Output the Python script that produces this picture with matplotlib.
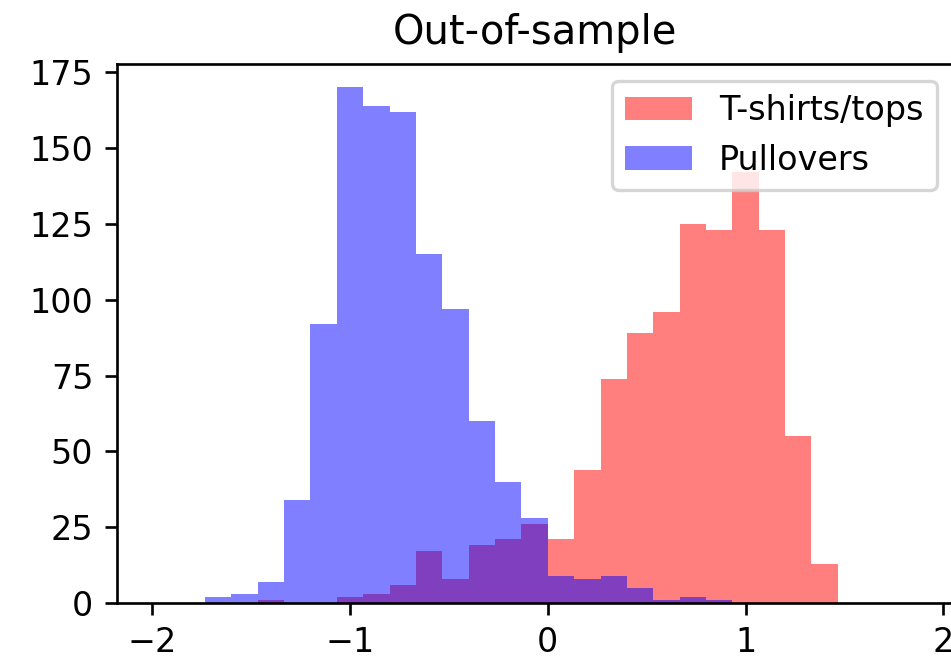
import matplotlib
matplotlib.use('Agg')
import matplotlib.pyplot as plt
import numpy as np


#%%  Data (counts per bin)
bin_edges = np.linspace(-2, 2, 31)

counts_tshirts = [0, 0, 0, 0, 1, 0, 0, 2, 3, 6,
                  17, 8, 19, 21, 26, 21, 44, 74, 89, 96,
                  125, 123, 142, 123, 55, 13, 0, 0, 0, 0]
counts_pullovers = [0, 0, 2, 3, 7, 34, 92, 170, 164, 162,
                    115, 97, 60, 40, 28, 9, 8, 9, 5, 1,
                    2, 1, 0, 0, 0, 0, 0, 0, 0, 0]

labels = ['T-shirts/tops', 'Pullovers']
title = 'Out-of-sample'

bin_centers = 0.5*(bin_edges[:-1] + bin_edges[1:])


#%%  Plotting
dpi = 240
fig = plt.figure(figsize=(951/dpi, 656/dpi), dpi=dpi)
ax = fig.add_axes([0.1227, 0.0808, 0.8796, 0.8216])

ax.hist(bin_centers, bin_edges, weights=counts_tshirts, color='red', alpha=0.5, label=labels[0])
ax.hist(bin_centers, bin_edges, weights=counts_pullovers, color='blue', alpha=0.5, label=labels[1])

ax.set_xlim([-2.18, 2.05])
ax.set_ylim([0, 177.7])
ax.set_xticks([-2, -1, 0, 1, 2])
ax.set_yticks(range(0, 176, 25))

ax.set_title(title)
ax.legend(loc='upper right')

plt.savefig('out.png', dpi=dpi)
